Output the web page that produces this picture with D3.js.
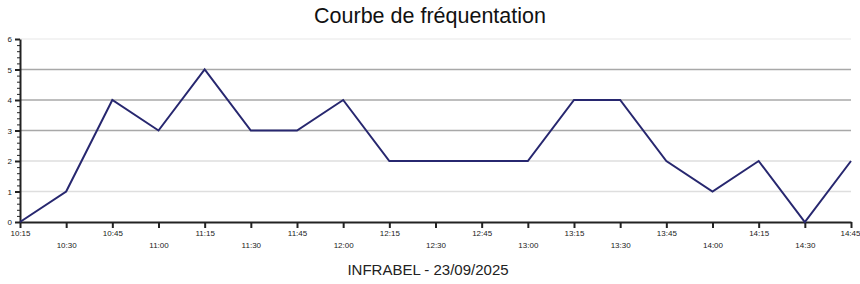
<!DOCTYPE html>
<html>
<head>
  <meta charset="utf-8">
  <style>
    body { margin: 0; background: #fff; font-family: "Liberation Sans", Arial, sans-serif; }
    .line { fill: none; stroke: #27276f; stroke-width: 2; }
    .axis path, .axis line { stroke: #222; }
    .axis text { font-family: "Liberation Sans", Arial, sans-serif; font-size: 8px; fill: #222; }
  </style>
  <script src="https://d3js.org/d3.v7.min.js"></script>
</head>
<body>
  <div id="chartContainer"></div>
  <script>
    var times = ["10:15", "10:30", "10:45", "11:00", "11:15", "11:30", "11:45", "12:00", "12:15", "12:30",
                 "12:45", "13:00", "13:15", "13:30", "13:45", "14:00", "14:15", "14:30", "14:45"];
    var visitors = [0, 1, 4, 3, 5, 3, 3, 4, 2, 2, 2, 2, 4, 4, 2, 1, 2, 0, 2];
    var yTicks = [0, 1, 2, 3, 4, 5, 6];
    var darkGrid = [3, 4, 5]; // these lines look heavier in the original

    var svgWidth = 860, svgHeight = 284;
    var margin = { top: 39, right: 9, bottom: 62, left: 20 };
    var chartWidth = svgWidth - margin.left - margin.right;
    var chartHeight = svgHeight - margin.top - margin.bottom;

    var svg = d3.select("#chartContainer").append("svg")
      .attr("width", svgWidth)
      .attr("height", svgHeight);

    var chart = svg.append("g")
      .attr("transform", "translate(" + margin.left + "," + margin.top + ")");

    var xScale = d3.scalePoint().domain(times).range([0, chartWidth]);
    var yScale = d3.scaleLinear().domain([0, 6]).range([chartHeight, 0]);

    // grille horizontale
    chart.selectAll(".grid")
      .data(yTicks.filter(function (d) { return d > 0; }))
      .enter().append("line")
      .attr("class", "grid")
      .attr("x1", 0)
      .attr("x2", chartWidth)
      .attr("y1", function (d) { return yScale(d); })
      .attr("y2", function (d) { return yScale(d); })
      .attr("stroke", function (d) {
        if (d == 6) return "#efefef";
        return darkGrid.indexOf(d) >= 0 ? "#a8a8a8" : "#dedede";
      })
      .attr("stroke-width", 1.5);

    // petites graduations (0.2)
    var yMinor = chart.append("g")
      .attr("class", "axis")
      .call(d3.axisLeft(yScale).ticks(30).tickSize(3).tickFormat(""));
    yMinor.select(".domain").remove();

    var yAxis = chart.append("g")
      .attr("class", "axis")
      .call(d3.axisLeft(yScale).tickValues(yTicks).tickSize(5).tickSizeOuter(0).tickPadding(3).tickFormat(d3.format("d")));
    yAxis.selectAll("line").attr("stroke-width", 2);
    yAxis.select(".domain").attr("stroke-width", 2);

    var xAxis = chart.append("g")
      .attr("class", "axis")
      .attr("transform", "translate(0," + chartHeight + ")")
      .call(d3.axisBottom(xScale).tickSize(6).tickSizeOuter(0));
    xAxis.select(".domain").attr("stroke-width", 2).attr("stroke", "#444");
    xAxis.selectAll("line").attr("stroke-width", 2);
    xAxis.selectAll("text")
      .attr("y", function (d, i) { return i % 2 == 0 ? 8 : 20; });
    // dernier libellé collé au bord droit
    xAxis.selectAll("text").filter(function (d, i) { return i == times.length - 1; })
      .attr("text-anchor", "end").attr("dx", 9);

    var line = d3.line()
      .x(function (d, i) { return xScale(times[i]); })
      .y(function (d) { return yScale(d); });

    chart.append("path")
      .datum(visitors)
      .attr("class", "line")
      .attr("d", line);

    svg.append("text")
      .attr("x", 430)
      .attr("y", 23)
      .attr("text-anchor", "middle")
      .style("font-size", "21.5px")
      .style("fill", "#111")
      .text("Courbe de fréquentation");

    svg.append("text")
      .attr("x", 428)
      .attr("y", 275)
      .attr("text-anchor", "middle")
      .style("font-size", "15px")
      .style("fill", "#222")
      .text("INFRABEL - 23/09/2025");
  </script>
</body>
</html>
